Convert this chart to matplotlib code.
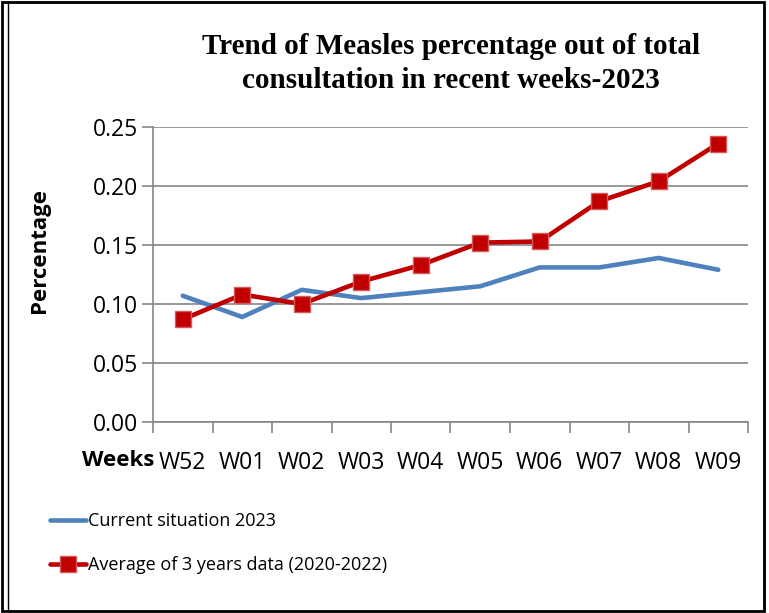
import numpy as np
import matplotlib.pyplot as plt
from matplotlib.patches import Rectangle

# chart data
weeks = ['W52', 'W01', 'W02', 'W03', 'W04', 'W05', 'W06', 'W07', 'W08', 'W09']
current_2023 = [0.107, 0.089, 0.112, 0.105, 0.110, 0.115, 0.131, 0.131, 0.139, 0.129]
avg_3yrs = [0.087, 0.108, 0.100, 0.119, 0.133, 0.152, 0.153, 0.187, 0.204, 0.236]
y_ticks = [0.00, 0.05, 0.10, 0.15, 0.20, 0.25]

W, H = 769, 613
fig = plt.figure(figsize=(W / 100, H / 100), dpi=100)
ax = fig.add_axes([153 / W, 1 - 422 / H, (748 - 153) / W, (422 - 127) / H])

sans = ['Open Sans', 'DejaVu Sans']
grid_col = '#868686'

x = np.arange(len(weeks))
ax.plot(x, current_2023, color='#4F81BD', lw=3.3, solid_capstyle='round',
        label='Current situation 2023', zorder=3)
ax.plot(x, avg_3yrs, color='#C00000', lw=3.3, marker='s', ms=12,
        mfc='#C00000', mec='#D45A5A', mew=1, solid_capstyle='round',
        label='Average of 3 years data (2020-2022)', zorder=4)

ax.set_xlim(-0.5, len(weeks) - 0.5)
ax.set_ylim(0, 0.25)
ax.set_yticks(y_ticks)
ax.set_yticklabels(['%.2f' % v for v in y_ticks], fontsize=16.5, family=sans)
ax.set_xticks(x)
ax.set_xticklabels(weeks, fontsize=16.5, family=sans)
ax.set_xticks(np.arange(-0.5, len(weeks)), minor=True)
ax.tick_params(axis='x', which='major', length=0, pad=21)
ax.tick_params(axis='x', which='minor', length=8, color=grid_col, width=1.2)
ax.tick_params(axis='y', length=8, color=grid_col, width=1.2, pad=3)

ax.grid(axis='y', color=grid_col, lw=1.2)
ax.set_axisbelow(True)
for s in ['top', 'right']:
    ax.spines[s].set_visible(False)
ax.spines['left'].set_color(grid_col)
ax.spines['bottom'].set_color(grid_col)
ax.spines['left'].set_linewidth(1.2)
ax.spines['bottom'].set_linewidth(1.2)

fig.text(82 / W, 1 - 460 / H, 'Weeks', fontsize=16, fontweight='bold',
         family=sans, ha='left', va='center')
fig.text(40 / W, 1 - 250 / H, 'Percentage', fontsize=16, fontweight='bold',
         family=sans, rotation=90, ha='center', va='center')

fig.text(451 / W, 1 - 46 / H, 'Trend of Measles percentage out of total',
         fontsize=21, fontweight='bold', family='Liberation Serif',
         ha='center', va='center')
fig.text(451 / W, 1 - 80 / H, 'consultation in recent weeks-2023',
         fontsize=21, fontweight='bold', family='Liberation Serif',
         ha='center', va='center')

handles, labels = ax.get_legend_handles_labels()
fig.legend(handles, labels, loc='upper left', bbox_to_anchor=(34 / W, 1 - 496 / H),
           frameon=False, prop={'family': sans, 'size': 13},
           handlelength=2.0, handletextpad=0.1, labelspacing=1.45)

# outer frame
fig.add_artist(Rectangle((2 / W, 2 / H), 1 - 7 / W, 1 - 4 / H, transform=fig.transFigure,
                         fill=False, ec='black', lw=2))
fig.add_artist(Rectangle((8 / W, 2 / H), 1 - 13 / W, 1 - 4 / H, transform=fig.transFigure,
                         fill=False, ec='black', lw=1))

fig.savefig('out.png', dpi=100)
